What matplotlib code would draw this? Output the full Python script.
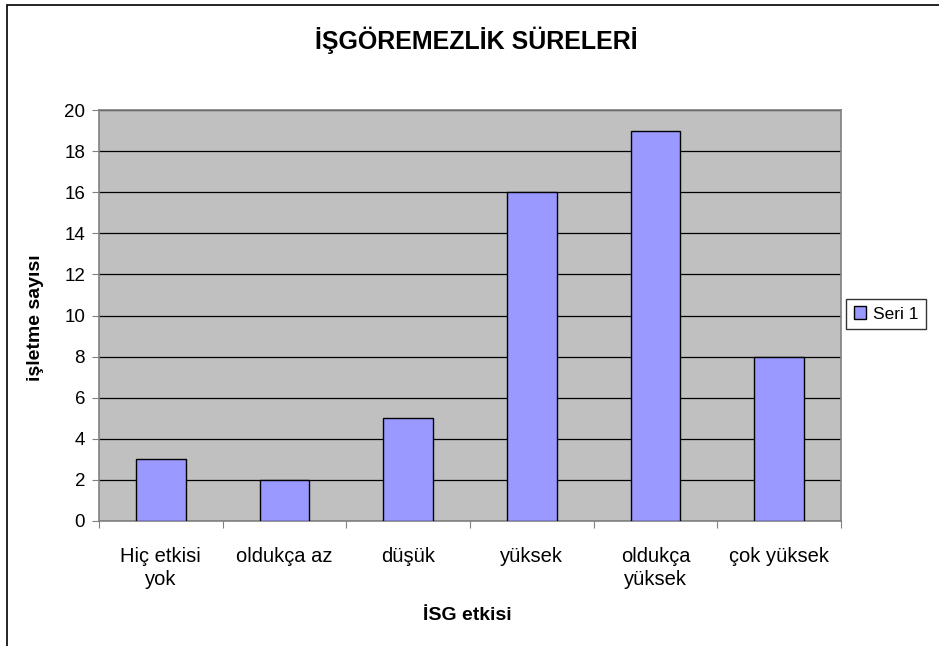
import matplotlib.pyplot as plt
import numpy as np
from matplotlib.patches import Rectangle

plt.rcParams["font.family"] = ["Liberation Sans", "DejaVu Sans"]

# Chart data
categories = ["Hiç etkisi\nyok", "oldukça az", "düşük", "yüksek", "oldukça\nyüksek", "çok yüksek"]
values = [3, 2, 5, 16, 19, 8]
y_ticks = [0, 2, 4, 6, 8, 10, 12, 14, 16, 18, 20]

fig = plt.figure(figsize=(9.39, 6.46), dpi=100)
ax = fig.add_axes([0.1054, 0.1935, 0.7902, 0.6362])

x = np.arange(len(categories))
ax.set_facecolor("#C0C0C0")
ax.bar(x, values, width=0.4, color="#9999FF", edgecolor="black", linewidth=1,
       label="Seri 1", zorder=3)

ax.set_xlim(-0.5, len(categories) - 0.5)
ax.set_ylim(0, 20)
ax.set_yticks(y_ticks)
ax.yaxis.grid(True, color="black", linewidth=0.9, zorder=1)
ax.set_axisbelow(True)

# category labels sit between the boundary ticks
ax.set_xticks(np.arange(len(categories) + 1) - 0.5)
ax.set_xticklabels([])
ax.set_xticks(x, minor=True)
ax.set_xticklabels(categories, minor=True, fontsize=14.5, linespacing=1.25)
ax.tick_params(axis="x", which="minor", length=0, pad=19)
ax.tick_params(axis="x", which="major", length=5, color="#808080")
ax.tick_params(axis="y", length=5, color="#808080", labelsize=13.5, pad=5)

for side in ["left", "bottom", "top", "right"]:
    ax.spines[side].set_color("#808080")
    ax.spines[side].set_linewidth(1.2)

fig.text(35 / 939, 1 - 318 / 646, "işletme sayısı", rotation=90, ha="center",
         va="center", fontsize=14, fontweight="bold")
fig.text(467 / 939, 1 - 615 / 646, "İSG etkisi", ha="center", va="center",
         fontsize=14, fontweight="bold")
fig.text(476 / 939, 1 - 40 / 646, "İŞGÖREMEZLİK SÜRELERİ", ha="center",
         va="center", fontsize=18, fontweight="bold")

leg = fig.legend(loc="center left", bbox_to_anchor=(846 / 939, 1 - 314 / 646),
                 fontsize=12.5, frameon=True, fancybox=False, edgecolor="black",
                 handlelength=0.7, handleheight=0.7, handletextpad=0.4,
                 borderpad=0.45, borderaxespad=0)
leg.get_frame().set_linewidth(1)

# outer chart frame
fig.patches.append(Rectangle((7 / 939, -0.1), 1.1, 1 - 5 / 646 + 0.1,
                             transform=fig.transFigure, fill=False,
                             edgecolor="black", linewidth=1.2))

fig.savefig("out.png", dpi=100)
